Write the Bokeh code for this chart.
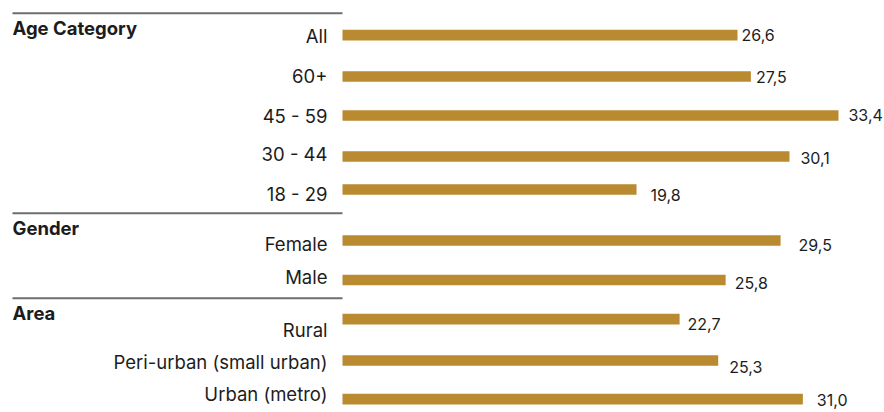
from bokeh.plotting import figure
from bokeh.models import ColumnDataSource, Range1d
from bokeh.core.properties import value
from bokeh.embed import file_html
from bokeh.resources import INLINE

# --- data ---
groups = ["Age Category", "Gender", "Area"]
categories = ["All", "60+", "45 - 59", "30 - 44", "18 - 29",
              "Female", "Male",
              "Rural", "Peri-urban (small urban)", "Urban (metro)"]
category_group = ["Age Category"] * 5 + ["Gender"] * 2 + ["Area"] * 3
values = [26.6, 27.5, 33.4, 30.1, 19.8, 29.5, 25.8, 22.7, 25.3, 31.0]

# --- layout (pixels) ---
W, H = 884, 412
ORIGIN = 342          # pixel where the bars start
PX = 14.85            # pixels per unit of value
row_y = [34.7, 76, 115, 156, 189, 240, 279.5, 318.7, 360, 398.7]
bar_h = 10.7
label_dy = [1, -1, 0, -2.5, 4, 3, -3, 11, 1, -5]
value_dx = [4, 5, 10, 11, 14, 18, 9, 8, 11, 14]
value_dy = [-0.7, 0.5, -1, 1.5, 5, 4, 2.5, 4.3, 6, 0.3]
group_line_y = [12.8, 212.8, 297.8]

BAR = "#b98a30"
INK = "#1c1c1c"
RULE = "#6e6e6e"
FONT = "Inter"

x_range = Range1d(-ORIGIN / PX, (W - ORIGIN) / PX)
p = figure(width=W, height=H, x_range=x_range, y_range=Range1d(H, 0),
           min_border=0, toolbar_location=None, output_backend="svg")
p.axis.visible = False
p.grid.visible = False
p.outline_line_color = None
p.background_fill_color = "white"
p.border_fill_color = "white"

src = ColumnDataSource(dict(
    cat=categories,
    val=values,
    y=row_y,
    ly=[y + d for y, d in zip(row_y, label_dy)],
    vy=[y + d for y, d in zip(row_y, value_dy)],
    vx_off=value_dx,
    txt=[f"{v:.1f}".replace(".", ",") for v in values],
))

# bars
p.hbar(y="y", left=0, right="val", height=bar_h, source=src,
       fill_color=BAR, line_color=None)

# category labels, right-aligned just left of the bars
p.text(x=0, y="ly", text="cat", source=src, x_offset=-15,
       text_align="right", text_baseline="middle",
       text_font=value(FONT), text_font_size="18.5px", text_color=INK)

# value labels
p.text(x="val", y="vy", text="txt", source=src, x_offset="vx_off",
       text_align="left", text_baseline="middle",
       text_font=value(FONT), text_font_size="16px", text_color=INK)

# group rules and headings
left_edge = x_range.start + 12 / PX
p.segment(x0=[left_edge] * 3, x1=[0] * 3, y0=group_line_y, y1=group_line_y,
          line_color=RULE, line_width=2)
p.text(x=[left_edge] * 3, y=[g + 14.5 for g in group_line_y], text=groups,
       text_align="left", text_baseline="middle",
       text_font=value(FONT), text_font_size="18.5px",
       text_font_style="bold", text_color=INK)

open("out.html", "w").write(file_html(p, INLINE))
